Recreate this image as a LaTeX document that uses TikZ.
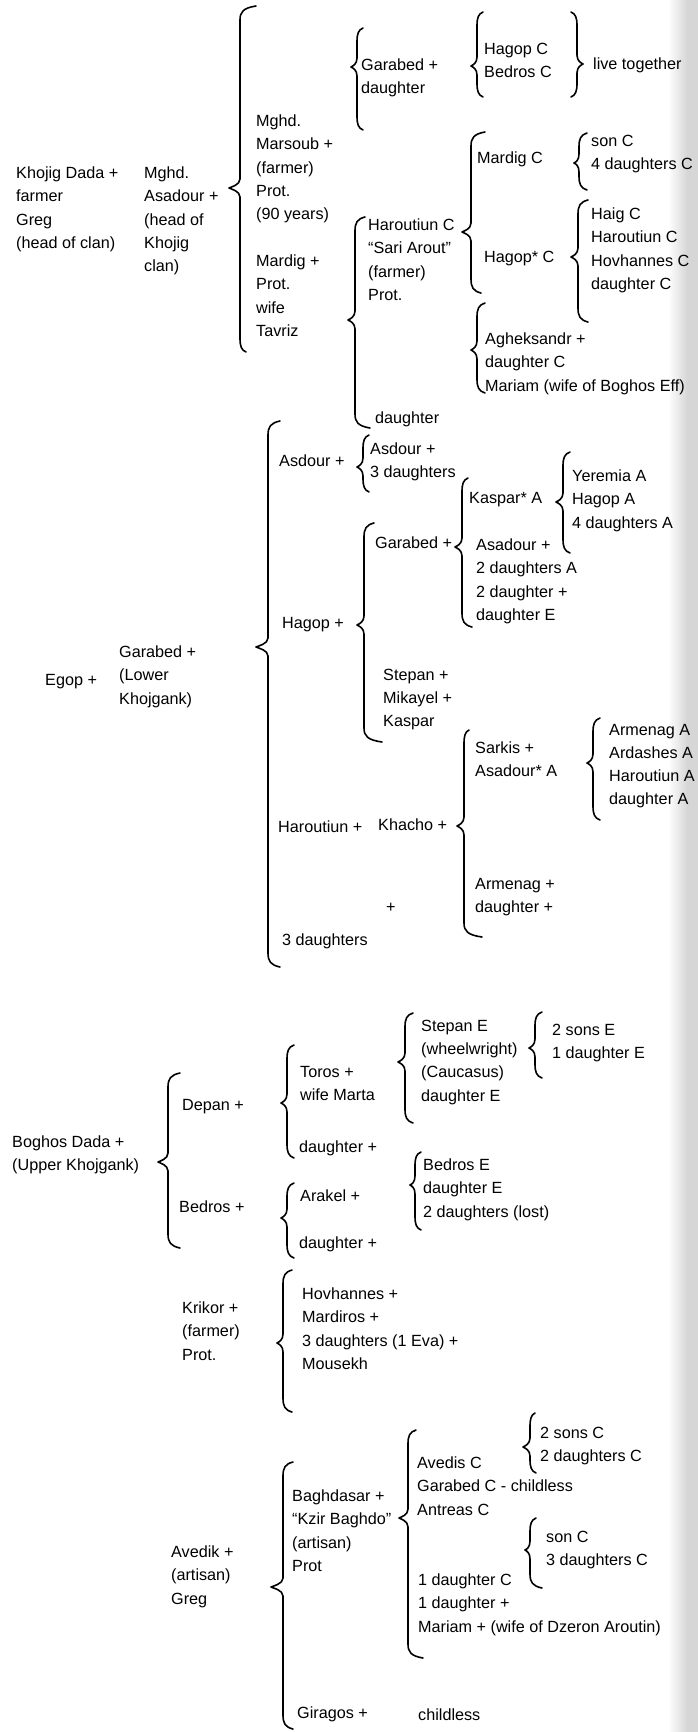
\documentclass[tikz,border=0pt]{standalone}
\usepackage{fontspec}
\setmainfont{Liberation Sans}
\newcommand\gfont{\fontsize{16.2}{23.3}\selectfont}
% left-opening brace: line x, top y, bottom y, tip y, tip x, top curl, bottom curl
\newcommand\brL[7]{%
  \draw[brc] ({#1+#6},#2) .. controls ({#1+0.2*#6},{#2+2}) and (#1,{#2+6}) .. (#1,{#2+14})
    -- (#1,{#4-9}) .. controls (#1,{#4-3}) and ({#5+2},{#4-1}) .. (#5,#4)
    .. controls ({#5+2},{#4+1}) and (#1,{#4+3}) .. (#1,{#4+9})
    -- (#1,{#3-14}) .. controls (#1,{#3-6}) and ({#1+0.2*#7},{#3-2}) .. ({#1+#7},#3);}
% right-opening (closing) brace, mirrored
\newcommand\brR[7]{%
  \draw[brc] ({#1-#6},#2) .. controls ({#1-0.2*#6},{#2+2}) and (#1,{#2+6}) .. (#1,{#2+14})
    -- (#1,{#4-9}) .. controls (#1,{#4-3}) and ({#5-2},{#4-1}) .. (#5,#4)
    .. controls ({#5-2},{#4+1}) and (#1,{#4+3}) .. (#1,{#4+9})
    -- (#1,{#3-14}) .. controls (#1,{#3-6}) and ({#1-0.2*#7},{#3-2}) .. ({#1-#7},#3);}
\begin{document}
\begin{tikzpicture}[x=1pt,y=-1pt,
  lbl/.style={anchor=north west, inner sep=0pt, align=left, yshift=16.31pt,
              font=\gfont, execute at begin node=\strut},
  brc/.style={line width=1.6pt, line cap=round, line join=round}]

% page and shaded right margin
\fill[white] (0,0) rectangle (698,1732);
\useasboundingbox (0,0) rectangle (698,1732);
\shade[left color=white, right color=gray!32] (668,0) rectangle (687,1732);
\fill[gray!32] (687,0) rectangle (698,1732);

% ---------------- Khojig clan ----------------
\node[lbl] (kd) at (16,183) {Khojig Dada +\\farmer\\Greg\\(head of clan)};
\node[lbl] (ma) at (144,183) {Mghd.\\Asadour +\\(head of\\Khojig\\clan)};
\brL{240}{6}{352}{188}{229}{16}{6}
\node[lbl] (mm) at (256,131) {Mghd.\\Marsoub +\\(farmer)\\Prot.\\(90 years)\\ \\Mardig +\\Prot.\\wife\\Tavriz};

\brL{357}{28}{130}{67}{351}{6}{6}
\node[lbl] (gd) at (361,75) {Garabed +\\daughter};
\brL{477}{12}{97}{66}{471}{6}{6}
\node[lbl] (hb) at (484,59) {Hagop C\\Bedros C};
\brR{577}{12}{97}{64}{583}{6}{6}
\node[lbl] (lt) at (593,69) {live together};

\brL{355}{217}{428}{320}{348}{10}{15}
\node[lbl] (hc) at (368,235) {Haroutiun C\\“Sari Arout”\\(farmer)\\Prot.};
\node[lbl] (da1) at (375,423) {daughter};
\brL{471}{132}{293}{232}{462}{14}{10}
\node[lbl] (mc) at (477,163) {Mardig C};
\node[lbl] (hpc) at (484,262) {Hagop* C};
\brL{579}{133}{190}{163}{574}{8}{8}
\node[lbl] (s4) at (591,151) {son C\\4 daughters C};
\brL{578}{200}{322}{257}{571}{10}{10}
\node[lbl] (hg) at (591,224) {Haig C\\Haroutiun C\\Hovhannes C\\daughter C};
\brL{477}{303}{393}{350}{471}{8}{8}
\node[lbl] (ag) at (485,349) {Agheksandr +\\daughter C\\Mariam (wife of Boghos Eff)};

% ---------------- Lower Khojgank ----------------
\node[lbl] (eg) at (45,685) {Egop +};
\node[lbl] (ga) at (119,662) {Garabed +\\(Lower\\Khojgank)};
\brL{268}{421}{967}{647}{256}{12}{12}
\node[lbl] (as) at (279,466) {Asdour +};
\brL{363}{435}{492}{467}{357}{6}{6}
\node[lbl] (a3) at (370,459) {Asdour +\\3 daughters};
\node[lbl] (hp) at (282,628) {Hagop +};
\brL{364}{523}{742}{625}{357}{10}{18}
\node[lbl] (gb) at (375,548) {Garabed +};
\node[lbl] (sm) at (383,685) {Stepan +\\Mikayel +\\Kaspar};
\brL{462}{478}{627}{547}{455}{6}{10}
\node[lbl] (kp) at (469,503) {Kaspar* A};
\node[lbl] (aa) at (476,555) {Asadour +\\2 daughters A\\2 daughter +\\daughter E};
\brL{563}{452}{553}{502}{556}{7}{7}
\node[lbl] (ye) at (572,486) {Yeremia A\\Hagop A\\4 daughters A};
\node[lbl] (hr) at (278,832) {Haroutiun +};
\node[lbl] (kh) at (378,830) {Khacho +};
\brL{464}{730}{937}{826}{457}{5}{18}
\node[lbl] (sa) at (475,758) {Sarkis +\\Asadour* A};
\brL{593}{718}{820}{763}{587}{7}{7}
\node[lbl] (ar) at (609,740) {Armenag A\\Ardashes A\\Haroutiun A\\daughter A};
\node[lbl] (am) at (475,894) {Armenag +\\daughter +};
\node[lbl] (pm) at (386,912) {+};
\node[lbl] (d3) at (282,945) {3 daughters};

% ---------------- Upper Khojgank ----------------
\node[lbl] (bd) at (12,1152) {Boghos Dada +\\(Upper Khojgank)};
\brL{168}{1073}{1248}{1162}{158}{12}{12}
\node[lbl] (dp) at (182,1110) {Depan +};
\node[lbl] (bdr) at (179,1212) {Bedros +};
\brL{287}{1045}{1158}{1103}{281}{7}{7}
\node[lbl] (to) at (300,1082) {Toros +\\wife Marta};
\node[lbl] (dt1) at (299,1152) {daughter +};
\brL{405}{1013}{1123}{1062}{398}{8}{8}
\node[lbl] (se) at (421,1036) {Stepan E\\(wheelwright)\\(Caucasus)\\daughter E};
\brL{535}{1012}{1078}{1048}{529}{7}{7}
\node[lbl] (sn) at (552,1040) {2 sons E\\1 daughter E};
\brL{287}{1183}{1258}{1218}{281}{7}{7}
\node[lbl] (ak) at (300,1201) {Arakel +};
\node[lbl] (dt2) at (299,1248) {daughter +};
\brL{415}{1152}{1230}{1185}{410}{6}{6}
\node[lbl] (be) at (423,1175) {Bedros E\\daughter E\\2 daughters (lost)};

\node[lbl] (kr) at (182,1318) {Krikor +\\(farmer)\\Prot.};
\brL{283}{1270}{1412}{1343}{277}{9}{9}
\node[lbl] (hv) at (302,1304) {Hovhannes +\\Mardiros +\\3 daughters (1 Eva) +\\Mousekh};

\node[lbl] (av) at (171,1562) {Avedik +\\(artisan)\\Greg};
\brL{283}{1462}{1729}{1587}{271}{10}{10}
\node[lbl] (bg) at (292,1506) {Baghdasar +\\“Kzir Baghdo”\\(artisan)\\Prot};
\brL{408}{1430}{1658}{1518}{399}{8}{15}
\node[lbl] (avc) at (417,1473) {Avedis C\\Garabed C - childless\\Antreas C};
\brL{530}{1413}{1473}{1447}{523}{5}{6}
\node[lbl] (s2) at (540,1443) {2 sons C\\2 daughters C};
\brL{530}{1518}{1588}{1550}{525}{6}{12}
\node[lbl] (s3) at (546,1547) {son C\\3 daughters C};
\node[lbl] (d1) at (418,1590) {1 daughter C\\1 daughter +\\Mariam + (wife of Dzeron Aroutin)};
\node[lbl] (gi) at (297,1718) {Giragos +};
\node[lbl] (ch) at (418,1720) {childless};
\end{tikzpicture}
\end{document}
